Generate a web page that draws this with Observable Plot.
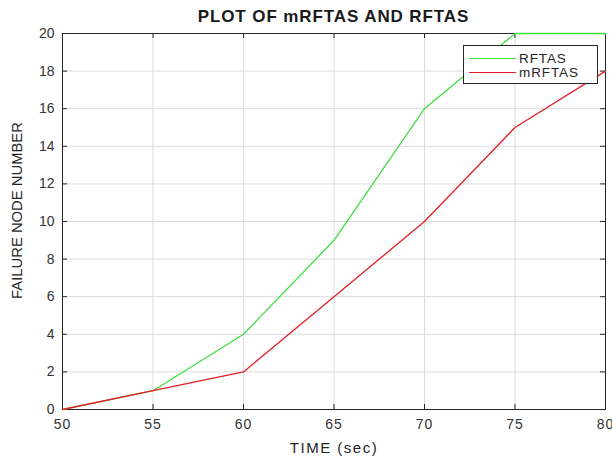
<!DOCTYPE html>
<html>
<head>
<meta charset="utf-8">
<script src="https://cdn.jsdelivr.net/npm/d3@7"></script>
<script src="https://cdn.jsdelivr.net/npm/@observablehq/plot@0.6"></script>
<style>
  html, body { margin: 0; padding: 0; background: #fff; }
  #wrap { position: relative; width: 612px; height: 457px; font-family: "Liberation Sans", Arial, sans-serif; }
  #title { height: 26px; box-sizing: border-box; padding: 9px 7px 0 62px; line-height: 16px;
           text-align: center; font-weight: bold; font-size: 17px; letter-spacing: 0.9px; color: #1a1a1a; }
  #legend { position: absolute; left: 463px; top: 45px; width: 135px; height: 39px; background: #fff;
            border: 1px solid #262626; box-sizing: border-box; }
  .lrow { position: absolute; left: 0; height: 14px; width: 100%; }
  .lline { position: absolute; left: 5px; width: 47px; top: 6px; height: 0; border-top: 1.3px solid; }
  .ltext { position: absolute; left: 55px; top: 0; font-size: 13.5px; line-height: 14px; letter-spacing: 0.9px; color: #262626; }
  svg { overflow: visible; }
</style>
</head>
<body>
<div id="wrap">
  <div id="title"></div>
  <div id="chart"></div>
  <div id="legend"></div>
</div>
<script>
const titleText = "PLOT OF mRFTAS AND RFTAS";
const xLabel = "TIME (sec)";
const yLabel = "FAILURE NODE NUMBER";
const seriesNames = ["RFTAS", "mRFTAS"];
const seriesColors = ["#3fe03f", "#e41e24"];
const times = [50, 55, 60, 65, 70, 75, 80];
const rftas = [0, 1, 4, 9, 16, 20, 20];
const mrftas = [0, 1, 2, 6, 10, 15, 18];
const xTicks = [50, 55, 60, 65, 70, 75, 80];
const yTicks = [0, 2, 4, 6, 8, 10, 12, 14, 16, 18, 20];

const W = 612, H = 431;
const mL = 62, mR = 7, mT = 7, mB = 48;
const innerW = W - mL - mR, innerH = H - mT - mB;
const tickLen = 5;

const table = [];
[rftas, mrftas].forEach((vals, s) => {
  times.forEach((t, i) => table.push({series: seriesNames[s], t, v: vals[i]}));
});

document.getElementById("title").textContent = titleText;

const chart = Plot.plot({
  width: W, height: H,
  marginLeft: mL, marginRight: mR, marginTop: mT, marginBottom: mB,
  style: {fontFamily: "'Liberation Sans', Arial, sans-serif", color: "#333333", background: "white"},
  x: {domain: [50, 80]},
  y: {domain: [0, 20]},
  color: {domain: seriesNames, range: seriesColors},
  marks: [
    Plot.gridX(xTicks, {stroke: "#dcdcdc", strokeOpacity: 1}),
    Plot.gridY(yTicks, {stroke: "#dcdcdc", strokeOpacity: 1}),
    Plot.frame({stroke: "#262626", strokeWidth: 1}),
    Plot.tickX(xTicks, {x: d => d, insetTop: innerH - tickLen, stroke: "#262626"}),
    Plot.tickX(xTicks, {x: d => d, insetBottom: innerH - tickLen, stroke: "#262626"}),
    Plot.tickY(yTicks, {y: d => d, insetRight: innerW - tickLen, stroke: "#262626"}),
    Plot.tickY(yTicks, {y: d => d, insetLeft: innerW - tickLen, stroke: "#262626"}),
    Plot.line(table, {x: "t", y: "v", z: "series", stroke: "series", strokeWidth: 1.3}),
    Plot.axisX(xTicks, {tickSize: 0, tickPadding: 10, fontSize: 14, label: null, fill: "#333333"}),
    Plot.axisY(yTicks, {tickSize: 0, tickPadding: 8, fontSize: 14, label: null, fill: "#333333"}),
    Plot.text([xLabel], {text: d => d, frameAnchor: "bottom", dy: 39, lineAnchor: "middle", textAnchor: "middle", fontSize: 15, fill: "#262626"}),
    Plot.text([yLabel], {text: d => d, frameAnchor: "left", dx: -45, dy: -11, rotate: -90, lineAnchor: "middle", textAnchor: "middle", fontSize: 14.8, fill: "#262626"})
  ]
});
document.getElementById("chart").appendChild(chart);
chart.querySelectorAll("text").forEach(t => {
  if (t.textContent === xLabel) t.setAttribute("letter-spacing", "1.5");
  if (/^\d+$/.test(t.textContent) && +t.textContent >= 50) t.setAttribute("letter-spacing", "1");
});

const legend = document.getElementById("legend");
seriesNames.forEach((name, i) => {
  const row = document.createElement("div");
  row.className = "lrow";
  row.style.top = (6 + i * 14) + "px";
  const line = document.createElement("div");
  line.className = "lline";
  line.style.borderTopColor = seriesColors[i];
  const txt = document.createElement("div");
  txt.className = "ltext";
  txt.textContent = name;
  row.appendChild(line); row.appendChild(txt);
  legend.appendChild(row);
});
</script>
</body>
</html>
